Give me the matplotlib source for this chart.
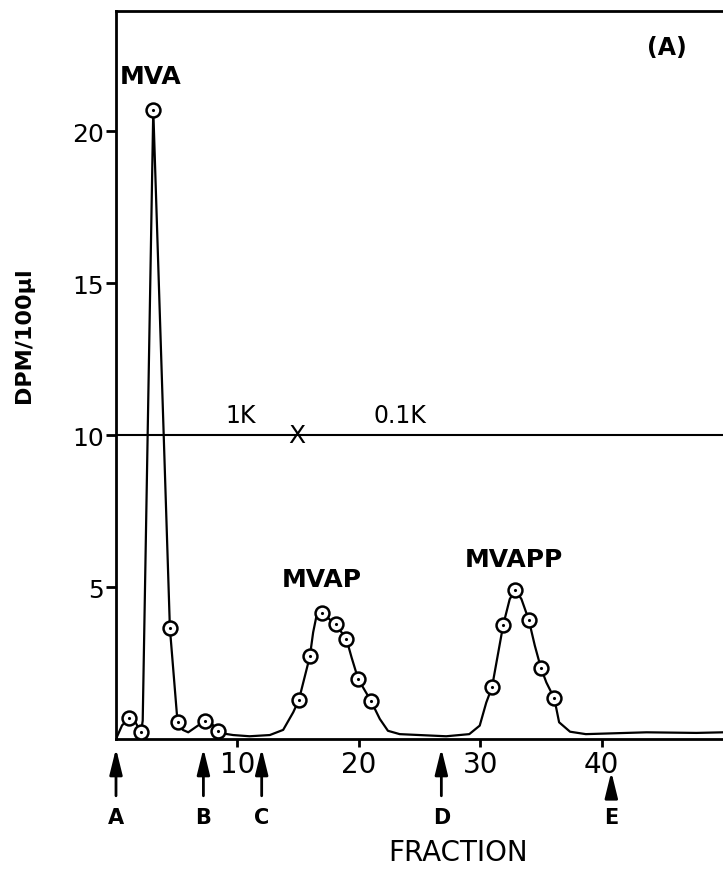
import numpy as np
import matplotlib
matplotlib.use("Agg")
import matplotlib.pyplot as plt

# measured fractions (circles)
frac = [1.1, 2.06, 3.07, 4.44, 5.07, 7.33, 8.42,
        15.06, 15.97, 16.98, 18.1, 18.98, 19.95, 20.99,
        30.97, 31.9, 32.9, 34.0, 35.0, 36.1]
dpm = [0.68, 0.22, 20.7, 3.64, 0.55, 0.6, 0.25,
       1.28, 2.72, 4.14, 3.77, 3.29, 1.97, 1.26,
       1.70, 3.76, 4.91, 3.92, 2.34, 1.34]

# hand drawn trace
trace_x = [0.0, 0.5, 1.1, 1.6, 2.06, 2.2, 3.07, 4.44, 5.07, 5.5, 5.95, 6.6, 7.33, 7.9, 8.42,
           9.0, 9.65, 11.0, 12.67, 13.77, 14.6, 15.06, 15.97, 16.24, 16.52, 16.98,
           18.1, 18.98, 19.4, 19.95, 20.99, 21.73, 22.4, 23.37, 25.0, 27.2, 29.1,
           29.96, 30.5, 30.97, 31.9, 32.43, 32.9, 33.4, 34.0, 34.5, 35.0, 35.45,
           36.1, 36.5, 37.4, 38.7, 43.7, 47.8, 50.0]
trace_y = [0.0, 0.45, 0.68, 0.55, 0.22, 0.6, 20.7, 3.64, 0.55, 0.3, 0.22, 0.4, 0.6, 0.5, 0.25,
           0.17, 0.13, 0.09, 0.13, 0.3, 0.88, 1.28, 2.72, 3.51, 4.06, 4.14,
           3.77, 3.29, 2.69, 1.97, 1.26, 0.66, 0.27, 0.16, 0.13, 0.09, 0.16,
           0.44, 1.2, 1.70, 3.76, 4.6, 4.91, 4.6, 3.92, 3.07, 2.34, 1.86,
           1.34, 0.55, 0.24, 0.16, 0.22, 0.2, 0.22]

peak_names = ["MVA", "MVAP", "MVAPP"]
peak_pos = [(2.88, 21.8), (16.95, 5.26), (32.76, 5.92)]

marker_names = ["A", "B", "C", "D", "E"]
marker_frac = [0.0, 7.2, 12.0, 26.8, 40.8]

fig = plt.figure(figsize=(7.23, 8.7), dpi=100)
ax = fig.add_axes([116 / 723, 130 / 870, 607 / 723, 728 / 870])

ax.plot(trace_x, trace_y, color="black", lw=1.6, zorder=2)
ax.plot(frac, dpm, "o", ms=10, mfc="white", mec="black", mew=1.8, zorder=3)
ax.plot(frac, dpm, ".", ms=2.5, color="black", zorder=4)

# salt concentration line
ax.axhline(10, color="black", lw=1.5, zorder=1)
ax.text(10.3, 10.25, "1K", fontsize=17, ha="center", va="bottom")
ax.text(23.4, 10.25, "0.1K", fontsize=17, ha="center", va="bottom")
ax.text(14.9, 10.0, "X", fontsize=18, ha="center", va="center")

for name, (px, py) in zip(peak_names, peak_pos):
    ax.text(px, py, name, fontsize=18, fontweight="bold", ha="center", va="center")
ax.text(45.35, 22.76, "(A)", fontsize=17, fontweight="bold", ha="center", va="center")

# arrows under the axis
for name, fx in zip(marker_names, marker_frac):
    tail = -0.08 if name == "E" else -0.078
    head = -0.045 if name == "E" else -0.013
    ax.annotate("", xy=(fx, head), xytext=(fx, tail),
                xycoords=("data", "axes fraction"), textcoords=("data", "axes fraction"),
                arrowprops=dict(arrowstyle="-|>,head_length=1.3,head_width=0.32",
                                color="black", lw=2, mutation_scale=12, shrinkA=0, shrinkB=0),
                annotation_clip=False)
    ax.text(fx, -0.107, name, transform=ax.get_xaxis_transform(), fontsize=15,
            fontweight="bold", ha="center", va="center")

ax.set_xlim(0, 50)
ax.set_ylim(0, 23.95)
ax.set_xticks([10, 20, 30, 40])
ax.set_yticks([5, 10, 15, 20])
ax.tick_params(axis="x", direction="out", length=6, width=2, labelsize=20, pad=2)
ax.tick_params(axis="y", direction="out", length=7, width=2, labelsize=18, pad=2)

for s in ["left", "top", "bottom"]:
    ax.spines[s].set_linewidth(2)
ax.spines["right"].set_visible(False)

fig.text(458 / 723, 1 - 853 / 870, "FRACTION", fontsize=20, ha="center", va="center")
fig.text(24 / 723, 1 - 335 / 870, "DPM/100\u03bcl", fontsize=16, fontweight="bold",
         rotation=90, ha="center", va="center")

fig.savefig("out.png", dpi=100)
